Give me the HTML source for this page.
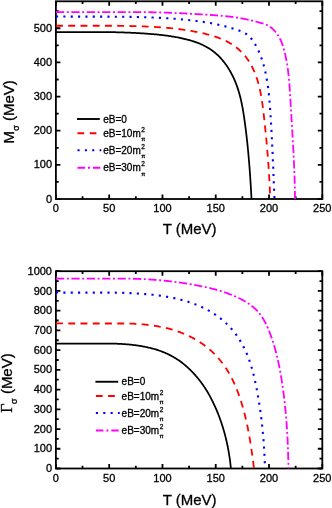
<!DOCTYPE html>
<html><head><meta charset="utf-8"><title>plot</title>
<style>html,body{margin:0;padding:0;background:#fff}svg{display:block;will-change:transform;opacity:.999}text{font-family:"Liberation Sans",sans-serif;fill:#000;stroke:#000;stroke-width:.3px}.tk{font-size:11px}.ax{font-size:15px}.lg{font-size:10px}.sm{font-size:6.5px}.pi{font-size:5.8px}.sub{font-size:9.5px}.ser{font-family:"Liberation Serif",serif}</style></head><body>
<svg width="332" height="508" viewBox="0 0 332 508">
<rect width="332" height="508" fill="#fff"/>
<g stroke="#000" stroke-width="1.8" fill="none" stroke-linecap="butt">
<rect x="55.90" y="1.30" width="266.40" height="197.70"/>
<path d="M55.90 199.00v-4.50M55.90 1.30v4.50M82.54 199.00v-2.80M82.54 1.30v2.80M109.18 199.00v-4.50M109.18 1.30v4.50M135.82 199.00v-2.80M135.82 1.30v2.80M162.46 199.00v-4.50M162.46 1.30v4.50M189.10 199.00v-2.80M189.10 1.30v2.80M215.74 199.00v-4.50M215.74 1.30v4.50M242.38 199.00v-2.80M242.38 1.30v2.80M269.02 199.00v-4.50M269.02 1.30v4.50M295.66 199.00v-2.80M295.66 1.30v2.80M322.30 199.00v-4.50M322.30 1.30v4.50M55.90 199.00h4.50M322.30 199.00h-4.50M55.90 181.93h2.80M322.30 181.93h-2.80M55.90 164.85h4.50M322.30 164.85h-4.50M55.90 147.78h2.80M322.30 147.78h-2.80M55.90 130.71h4.50M322.30 130.71h-4.50M55.90 113.64h2.80M322.30 113.64h-2.80M55.90 96.56h4.50M322.30 96.56h-4.50M55.90 79.49h2.80M322.30 79.49h-2.80M55.90 62.42h4.50M322.30 62.42h-4.50M55.90 45.35h2.80M322.30 45.35h-2.80M55.90 28.27h4.50M322.30 28.27h-4.50M55.90 11.20h2.80M322.30 11.20h-2.80"/>
</g>
<text class="tk" x="55.90" y="212.40" text-anchor="middle">0</text>
<text class="tk" x="109.18" y="212.40" text-anchor="middle">50</text>
<text class="tk" x="162.46" y="212.40" text-anchor="middle">100</text>
<text class="tk" x="215.74" y="212.40" text-anchor="middle">150</text>
<text class="tk" x="269.02" y="212.40" text-anchor="middle">200</text>
<text class="tk" x="322.30" y="212.40" text-anchor="middle">250</text>
<text class="tk" x="52.0" y="202.60" text-anchor="end">0</text>
<text class="tk" x="52.0" y="168.45" text-anchor="end">100</text>
<text class="tk" x="52.0" y="134.31" text-anchor="end">200</text>
<text class="tk" x="52.0" y="100.16" text-anchor="end">300</text>
<text class="tk" x="52.0" y="66.02" text-anchor="end">400</text>
<text class="tk" x="52.0" y="31.87" text-anchor="end">500</text>
<text class="ax" x="189.6" y="234.40" text-anchor="middle">T (MeV)</text>
<g fill="none" stroke-linejoin="round">
<path d="M56.00 32.00 L57.06 32.00 L58.12 32.00 L59.19 32.00 L60.25 32.00 L61.31 32.00 L62.37 32.00 L63.43 32.00 L64.50 32.00 L65.56 32.00 L66.62 32.00 L67.68 32.00 L68.74 32.00 L69.81 32.00 L70.87 32.00 L71.93 32.00 L72.99 32.00 L74.05 32.00 L75.11 32.00 L76.18 32.00 L77.24 32.00 L78.30 32.00 L79.36 32.00 L80.42 32.00 L81.48 32.00 L82.55 32.00 L83.61 32.00 L84.67 32.00 L85.73 32.00 L86.79 32.00 L87.85 32.00 L88.91 32.00 L89.97 32.00 L91.03 32.00 L92.10 32.00 L93.16 32.00 L94.22 32.00 L95.28 32.00 L96.34 32.00 L97.40 32.00 L98.46 32.00 L99.52 32.00 L100.58 32.00 L101.64 32.00 L102.70 32.00 L103.76 32.00 L104.82 32.02 L105.88 32.03 L106.94 32.05 L108.00 32.07 L109.06 32.09 L110.12 32.11 L111.18 32.14 L112.24 32.16 L113.30 32.18 L114.36 32.21 L115.42 32.24 L116.48 32.26 L117.54 32.29 L118.60 32.32 L119.65 32.36 L120.71 32.39 L121.77 32.42 L122.83 32.46 L123.89 32.49 L124.95 32.53 L126.01 32.57 L127.06 32.61 L128.12 32.65 L129.18 32.70 L130.24 32.74 L131.30 32.79 L132.35 32.84 L133.41 32.89 L134.47 32.94 L135.53 32.99 L136.58 33.04 L137.64 33.10 L138.70 33.15 L139.76 33.21 L140.81 33.27 L141.87 33.34 L142.93 33.40 L143.98 33.47 L145.04 33.54 L146.10 33.61 L147.15 33.68 L148.21 33.76 L149.27 33.84 L150.32 33.92 L151.38 34.01 L152.44 34.09 L153.49 34.19 L154.55 34.28 L155.60 34.38 L156.66 34.48 L157.72 34.59 L158.78 34.70 L159.83 34.81 L160.89 34.93 L161.95 35.05 L163.00 35.18 L164.06 35.31 L165.12 35.44 L166.18 35.58 L167.23 35.73 L168.29 35.88 L169.35 36.03 L170.41 36.19 L171.47 36.35 L172.52 36.52 L173.58 36.70 L174.64 36.88 L175.70 37.06 L176.76 37.26 L177.82 37.45 L178.88 37.66 L179.94 37.87 L180.99 38.09 L182.05 38.31 L183.10 38.55 L184.15 38.79 L185.20 39.04 L186.25 39.30 L187.29 39.56 L188.33 39.84 L189.37 40.12 L190.40 40.42 L191.42 40.72 L192.45 41.04 L193.46 41.36 L194.47 41.70 L195.48 42.05 L196.48 42.41 L197.47 42.78 L198.46 43.16 L199.44 43.56 L200.41 43.97 L201.37 44.39 L202.33 44.82 L203.28 45.27 L204.22 45.73 L205.15 46.21 L206.07 46.70 L206.98 47.21 L207.88 47.73 L208.77 48.26 L209.65 48.82 L210.51 49.38 L211.37 49.97 L212.21 50.57 L213.05 51.19 L213.87 51.82 L214.68 52.47 L215.47 53.14 L216.26 53.82 L217.03 54.51 L217.79 55.22 L218.54 55.95 L219.28 56.68 L220.01 57.44 L220.72 58.20 L221.42 58.98 L222.11 59.77 L222.79 60.57 L223.46 61.39 L224.12 62.21 L224.76 63.05 L225.39 63.90 L226.01 64.75 L226.62 65.62 L227.22 66.50 L227.81 67.39 L228.38 68.28 L228.94 69.19 L229.50 70.10 L230.04 71.02 L230.56 71.95 L231.08 72.89 L231.59 73.83 L232.08 74.78 L232.56 75.74 L233.03 76.70 L233.49 77.67 L233.94 78.64 L234.38 79.62 L234.81 80.60 L235.22 81.59 L235.62 82.58 L236.02 83.58 L236.40 84.57 L236.77 85.58 L237.12 86.58 L237.47 87.59 L237.81 88.60 L238.14 89.61 L238.46 90.63 L238.77 91.64 L239.07 92.66 L239.36 93.69 L239.64 94.71 L239.91 95.74 L240.18 96.77 L240.44 97.80 L240.68 98.84 L240.93 99.87 L241.16 100.91 L241.39 101.95 L241.61 102.99 L241.83 104.03 L242.04 105.08 L242.24 106.12 L242.44 107.17 L242.63 108.21 L242.82 109.26 L243.00 110.31 L243.18 111.36 L243.35 112.41 L243.52 113.47 L243.68 114.52 L243.85 115.57 L244.01 116.62 L244.16 117.68 L244.31 118.73 L244.46 119.79 L244.61 120.84 L244.76 121.89 L244.90 122.95 L245.04 124.00 L245.18 125.05 L245.32 126.11 L245.46 127.16 L245.59 128.22 L245.73 129.27 L245.86 130.32 L245.99 131.38 L246.12 132.43 L246.24 133.48 L246.37 134.53 L246.49 135.59 L246.61 136.64 L246.73 137.69 L246.85 138.75 L246.97 139.80 L247.08 140.85 L247.19 141.91 L247.31 142.96 L247.42 144.01 L247.52 145.07 L247.63 146.12 L247.74 147.17 L247.84 148.23 L247.95 149.28 L248.05 150.33 L248.15 151.39 L248.25 152.44 L248.34 153.50 L248.44 154.55 L248.54 155.60 L248.63 156.66 L248.72 157.71 L248.81 158.77 L248.90 159.82 L248.99 160.88 L249.08 161.93 L249.16 162.99 L249.25 164.04 L249.33 165.10 L249.42 166.15 L249.50 167.21 L249.58 168.26 L249.66 169.32 L249.73 170.38 L249.81 171.43 L249.89 172.49 L249.96 173.55 L250.04 174.60 L250.11 175.66 L250.18 176.72 L250.25 177.78 L250.32 178.84 L250.39 179.89 L250.46 180.95 L250.53 182.01 L250.60 183.07 L250.66 184.13 L250.73 185.19 L250.79 186.25 L250.85 187.31 L250.92 188.37 L250.98 189.43 L251.04 190.50 L251.10 191.56 L251.16 192.62 L251.22 193.68 L251.27 194.74 L251.33 195.81 L251.39 196.87 L251.44 197.94 L251.50 199.00" stroke="#000" stroke-width="1.75"/>
<path d="M56.00 25.75 L57.14 25.75 L58.29 25.75 L59.43 25.75 L60.58 25.75 L61.72 25.75 L62.87 25.75 L64.01 25.75 L65.16 25.75 L66.31 25.75 L67.45 25.75 L68.60 25.75 L69.75 25.75 L70.90 25.75 L72.04 25.75 L73.19 25.75 L74.34 25.75 L75.49 25.75 L76.64 25.75 L77.79 25.75 L78.94 25.75 L80.09 25.75 L81.23 25.75 L82.38 25.75 L83.53 25.75 L84.68 25.75 L85.83 25.75 L86.98 25.75 L88.13 25.75 L89.28 25.75 L90.44 25.75 L91.59 25.75 L92.74 25.75 L93.89 25.75 L95.04 25.75 L96.19 25.75 L97.34 25.75 L98.49 25.75 L99.64 25.75 L100.79 25.75 L101.94 25.75 L103.09 25.75 L104.25 25.75 L105.40 25.75 L106.55 25.75 L107.70 25.75 L108.85 25.75 L110.00 25.75 L111.15 25.75 L112.30 25.75 L113.45 25.75 L114.60 25.75 L115.75 25.75 L116.90 25.76 L118.05 25.77 L119.20 25.79 L120.35 25.81 L121.50 25.82 L122.65 25.84 L123.80 25.86 L124.95 25.88 L126.10 25.90 L127.24 25.93 L128.39 25.95 L129.54 25.98 L130.69 26.01 L131.84 26.03 L132.98 26.06 L134.13 26.10 L135.28 26.13 L136.43 26.16 L137.57 26.20 L138.72 26.24 L139.86 26.28 L141.01 26.32 L142.15 26.36 L143.30 26.41 L144.44 26.46 L145.59 26.50 L146.73 26.55 L147.87 26.61 L149.02 26.66 L150.16 26.72 L151.30 26.78 L152.44 26.84 L153.59 26.90 L154.73 26.97 L155.87 27.04 L157.01 27.11 L158.15 27.19 L159.29 27.26 L160.43 27.34 L161.58 27.43 L162.72 27.51 L163.86 27.60 L165.00 27.70 L166.14 27.79 L167.28 27.89 L168.42 28.00 L169.56 28.10 L170.70 28.21 L171.84 28.33 L172.97 28.45 L174.11 28.57 L175.25 28.70 L176.39 28.83 L177.53 28.96 L178.67 29.10 L179.81 29.25 L180.95 29.39 L182.09 29.55 L183.23 29.70 L184.37 29.87 L185.51 30.03 L186.65 30.20 L187.79 30.38 L188.93 30.56 L190.07 30.75 L191.20 30.94 L192.34 31.14 L193.48 31.34 L194.62 31.55 L195.76 31.77 L196.89 31.99 L198.03 32.22 L199.16 32.46 L200.30 32.70 L201.43 32.95 L202.56 33.20 L203.69 33.47 L204.82 33.74 L205.95 34.02 L207.07 34.30 L208.20 34.60 L209.32 34.90 L210.44 35.21 L211.55 35.53 L212.66 35.87 L213.77 36.21 L214.88 36.56 L215.98 36.92 L217.07 37.30 L218.16 37.69 L219.24 38.09 L220.31 38.51 L221.38 38.94 L222.44 39.38 L223.49 39.84 L224.53 40.32 L225.56 40.81 L226.58 41.32 L227.59 41.85 L228.60 42.39 L229.59 42.95 L230.56 43.53 L231.53 44.13 L232.48 44.74 L233.43 45.38 L234.35 46.02 L235.27 46.69 L236.17 47.38 L237.06 48.08 L237.93 48.79 L238.79 49.53 L239.63 50.28 L240.46 51.05 L241.27 51.83 L242.07 52.64 L242.84 53.45 L243.61 54.29 L244.35 55.14 L245.08 56.01 L245.78 56.89 L246.47 57.79 L247.15 58.70 L247.80 59.63 L248.44 60.58 L249.06 61.53 L249.66 62.50 L250.24 63.48 L250.81 64.48 L251.36 65.48 L251.90 66.49 L252.42 67.52 L252.92 68.55 L253.41 69.59 L253.88 70.64 L254.34 71.70 L254.78 72.76 L255.21 73.82 L255.62 74.90 L256.02 75.98 L256.40 77.06 L256.77 78.14 L257.13 79.23 L257.48 80.33 L257.81 81.43 L258.13 82.53 L258.44 83.64 L258.74 84.74 L259.02 85.86 L259.30 86.97 L259.57 88.09 L259.82 89.21 L260.07 90.34 L260.31 91.47 L260.54 92.60 L260.76 93.73 L260.97 94.86 L261.17 96.00 L261.37 97.14 L261.56 98.28 L261.74 99.42 L261.92 100.56 L262.09 101.70 L262.26 102.85 L262.42 104.00 L262.58 105.14 L262.73 106.29 L262.88 107.44 L263.02 108.59 L263.16 109.74 L263.30 110.89 L263.43 112.04 L263.57 113.19 L263.70 114.33 L263.83 115.48 L263.96 116.63 L264.09 117.78 L264.21 118.93 L264.34 120.07 L264.47 121.22 L264.59 122.36 L264.71 123.51 L264.84 124.65 L264.96 125.80 L265.08 126.94 L265.20 128.08 L265.31 129.22 L265.43 130.37 L265.55 131.51 L265.66 132.65 L265.78 133.79 L265.89 134.93 L266.00 136.07 L266.11 137.21 L266.22 138.35 L266.33 139.49 L266.43 140.63 L266.54 141.77 L266.64 142.91 L266.75 144.05 L266.85 145.19 L266.95 146.33 L267.05 147.47 L267.15 148.61 L267.25 149.75 L267.34 150.89 L267.44 152.03 L267.53 153.17 L267.62 154.31 L267.72 155.44 L267.81 156.58 L267.90 157.72 L267.98 158.86 L268.07 160.00 L268.15 161.14 L268.24 162.28 L268.32 163.42 L268.40 164.56 L268.48 165.71 L268.56 166.85 L268.64 167.99 L268.71 169.13 L268.79 170.27 L268.86 171.42 L268.93 172.56 L269.00 173.70 L269.07 174.85 L269.14 175.99 L269.21 177.13 L269.27 178.28 L269.34 179.43 L269.40 180.57 L269.46 181.72 L269.52 182.87 L269.58 184.01 L269.63 185.16 L269.69 186.31 L269.74 187.46 L269.80 188.61 L269.85 189.76 L269.90 190.92 L269.94 192.07 L269.99 193.22 L270.04 194.38 L270.08 195.53 L270.12 196.69 L270.16 197.84 L270.20 199.00" stroke="#f00" stroke-width="1.8" stroke-dasharray="6.9 5.35"/>
<path d="M56.00 16.50 L57.21 16.51 L58.42 16.52 L59.63 16.53 L60.85 16.54 L62.06 16.55 L63.27 16.56 L64.48 16.56 L65.70 16.57 L66.91 16.58 L68.12 16.58 L69.34 16.59 L70.55 16.59 L71.76 16.60 L72.98 16.60 L74.19 16.60 L75.41 16.60 L76.62 16.61 L77.84 16.61 L79.06 16.61 L80.27 16.61 L81.49 16.61 L82.70 16.62 L83.92 16.62 L85.14 16.62 L86.35 16.62 L87.57 16.62 L88.79 16.62 L90.00 16.62 L91.22 16.62 L92.44 16.63 L93.66 16.63 L94.87 16.63 L96.09 16.63 L97.31 16.63 L98.53 16.64 L99.74 16.64 L100.96 16.64 L102.18 16.65 L103.40 16.65 L104.61 16.65 L105.83 16.66 L107.05 16.66 L108.27 16.67 L109.49 16.68 L110.70 16.68 L111.92 16.69 L113.14 16.70 L114.35 16.71 L115.57 16.72 L116.79 16.73 L118.01 16.74 L119.22 16.75 L120.44 16.76 L121.66 16.78 L122.87 16.79 L124.09 16.81 L125.31 16.82 L126.52 16.84 L127.74 16.86 L128.95 16.88 L130.17 16.90 L131.38 16.92 L132.60 16.95 L133.81 16.97 L135.03 17.00 L136.24 17.02 L137.46 17.05 L138.67 17.08 L139.88 17.11 L141.10 17.14 L142.31 17.18 L143.52 17.21 L144.73 17.25 L145.95 17.29 L147.16 17.33 L148.37 17.37 L149.58 17.41 L150.79 17.46 L152.00 17.51 L153.21 17.55 L154.42 17.60 L155.63 17.66 L156.84 17.71 L158.05 17.77 L159.26 17.83 L160.47 17.89 L161.68 17.95 L162.89 18.02 L164.09 18.08 L165.30 18.15 L166.51 18.23 L167.72 18.30 L168.93 18.38 L170.14 18.46 L171.34 18.54 L172.55 18.63 L173.76 18.72 L174.97 18.81 L176.18 18.91 L177.39 19.00 L178.60 19.10 L179.81 19.21 L181.02 19.32 L182.23 19.43 L183.44 19.54 L184.65 19.66 L185.86 19.78 L187.07 19.91 L188.29 20.03 L189.50 20.17 L190.71 20.30 L191.92 20.44 L193.14 20.59 L194.35 20.73 L195.57 20.89 L196.78 21.04 L198.00 21.20 L199.21 21.37 L200.43 21.54 L201.64 21.71 L202.85 21.89 L204.07 22.08 L205.28 22.27 L206.49 22.46 L207.70 22.66 L208.91 22.87 L210.12 23.08 L211.33 23.30 L212.53 23.52 L213.74 23.75 L214.94 23.99 L216.14 24.23 L217.34 24.48 L218.53 24.74 L219.73 25.00 L220.92 25.27 L222.11 25.55 L223.29 25.84 L224.48 26.13 L225.66 26.43 L226.84 26.74 L228.01 27.05 L229.18 27.38 L230.35 27.71 L231.51 28.05 L232.68 28.40 L233.83 28.75 L234.98 29.12 L236.13 29.49 L237.28 29.88 L238.42 30.27 L239.54 30.69 L240.66 31.12 L241.76 31.58 L242.84 32.07 L243.89 32.59 L244.92 33.16 L245.92 33.77 L246.88 34.43 L247.80 35.15 L248.69 35.92 L249.54 36.74 L250.35 37.60 L251.14 38.50 L251.89 39.44 L252.61 40.40 L253.31 41.40 L253.98 42.41 L254.63 43.45 L255.26 44.49 L255.87 45.55 L256.46 46.62 L257.03 47.70 L257.58 48.79 L258.11 49.89 L258.62 51.00 L259.12 52.11 L259.60 53.24 L260.06 54.37 L260.51 55.51 L260.94 56.65 L261.36 57.81 L261.76 58.96 L262.14 60.12 L262.52 61.29 L262.88 62.46 L263.22 63.63 L263.56 64.81 L263.88 65.98 L264.20 67.16 L264.50 68.34 L264.79 69.53 L265.07 70.71 L265.34 71.90 L265.60 73.08 L265.84 74.27 L266.09 75.46 L266.32 76.65 L266.54 77.84 L266.75 79.04 L266.96 80.23 L267.16 81.43 L267.35 82.63 L267.53 83.82 L267.70 85.02 L267.87 86.22 L268.03 87.42 L268.19 88.63 L268.34 89.83 L268.48 91.03 L268.62 92.24 L268.75 93.44 L268.87 94.65 L269.00 95.86 L269.11 97.07 L269.23 98.27 L269.34 99.48 L269.44 100.69 L269.55 101.90 L269.65 103.11 L269.74 104.32 L269.84 105.53 L269.93 106.74 L270.02 107.96 L270.11 109.17 L270.19 110.38 L270.28 111.59 L270.36 112.80 L270.45 114.02 L270.53 115.23 L270.61 116.44 L270.69 117.65 L270.76 118.87 L270.84 120.08 L270.92 121.29 L270.99 122.51 L271.06 123.72 L271.14 124.93 L271.21 126.15 L271.28 127.36 L271.35 128.57 L271.42 129.79 L271.48 131.00 L271.55 132.22 L271.62 133.43 L271.68 134.64 L271.74 135.86 L271.81 137.07 L271.87 138.29 L271.93 139.50 L271.99 140.72 L272.05 141.93 L272.11 143.14 L272.17 144.36 L272.23 145.57 L272.29 146.79 L272.34 148.00 L272.40 149.22 L272.45 150.43 L272.51 151.65 L272.56 152.86 L272.62 154.08 L272.67 155.29 L272.73 156.51 L272.78 157.72 L272.83 158.94 L272.88 160.15 L272.93 161.37 L272.99 162.58 L273.04 163.80 L273.09 165.01 L273.14 166.23 L273.19 167.44 L273.24 168.65 L273.29 169.87 L273.34 171.08 L273.39 172.30 L273.44 173.51 L273.49 174.73 L273.54 175.94 L273.59 177.16 L273.64 178.37 L273.69 179.58 L273.74 180.80 L273.79 182.01 L273.83 183.23 L273.88 184.44 L273.93 185.65 L273.98 186.87 L274.04 188.08 L274.09 189.30 L274.14 190.51 L274.19 191.72 L274.24 192.94 L274.29 194.15 L274.34 195.36 L274.39 196.57 L274.45 197.79 L274.50 199.00" stroke="#00f" stroke-width="2.1" stroke-dasharray="2.1 5.25"/>
<path d="M56.00 12.00 L57.31 12.01 L58.62 12.03 L59.94 12.04 L61.25 12.05 L62.56 12.06 L63.87 12.07 L65.19 12.07 L66.50 12.08 L67.81 12.08 L69.13 12.09 L70.44 12.09 L71.76 12.09 L73.07 12.10 L74.38 12.10 L75.70 12.10 L77.01 12.10 L78.33 12.10 L79.64 12.10 L80.96 12.10 L82.27 12.10 L83.59 12.10 L84.90 12.10 L86.22 12.10 L87.53 12.10 L88.85 12.10 L90.16 12.10 L91.48 12.10 L92.80 12.10 L94.11 12.10 L95.43 12.10 L96.74 12.10 L98.06 12.10 L99.37 12.10 L100.69 12.10 L102.01 12.10 L103.32 12.10 L104.64 12.10 L105.95 12.10 L107.27 12.10 L108.59 12.10 L109.90 12.10 L111.22 12.10 L112.53 12.10 L113.85 12.10 L115.17 12.10 L116.48 12.10 L117.80 12.10 L119.11 12.10 L120.43 12.10 L121.74 12.10 L123.06 12.10 L124.37 12.10 L125.69 12.10 L127.00 12.10 L128.32 12.10 L129.63 12.10 L130.95 12.10 L132.26 12.10 L133.58 12.10 L134.89 12.10 L136.21 12.10 L137.52 12.10 L138.84 12.10 L140.15 12.10 L141.46 12.10 L142.78 12.12 L144.09 12.13 L145.40 12.15 L146.71 12.18 L148.03 12.20 L149.34 12.22 L150.65 12.25 L151.96 12.27 L153.28 12.30 L154.59 12.33 L155.90 12.36 L157.21 12.40 L158.52 12.43 L159.83 12.47 L161.14 12.51 L162.45 12.55 L163.76 12.59 L165.07 12.63 L166.38 12.68 L167.69 12.72 L169.01 12.77 L170.32 12.82 L171.63 12.87 L172.94 12.92 L174.25 12.98 L175.56 13.03 L176.87 13.09 L178.18 13.15 L179.50 13.21 L180.81 13.27 L182.12 13.33 L183.44 13.39 L184.75 13.46 L186.07 13.52 L187.38 13.59 L188.70 13.66 L190.01 13.73 L191.33 13.80 L192.65 13.87 L193.97 13.94 L195.28 14.02 L196.60 14.09 L197.93 14.17 L199.25 14.25 L200.57 14.33 L201.89 14.41 L203.22 14.49 L204.54 14.57 L205.87 14.65 L207.19 14.74 L208.52 14.83 L209.85 14.91 L211.18 15.00 L212.51 15.10 L213.83 15.19 L215.16 15.29 L216.49 15.39 L217.82 15.50 L219.14 15.60 L220.47 15.72 L221.79 15.84 L223.12 15.96 L224.44 16.09 L225.76 16.22 L227.07 16.36 L228.39 16.50 L229.70 16.65 L231.02 16.81 L232.32 16.97 L233.63 17.14 L234.93 17.32 L236.23 17.51 L237.53 17.70 L238.82 17.91 L240.11 18.12 L241.40 18.34 L242.68 18.57 L243.96 18.80 L245.23 19.05 L246.50 19.31 L247.76 19.58 L249.02 19.86 L250.28 20.15 L251.53 20.45 L252.77 20.76 L254.01 21.08 L255.24 21.42 L256.48 21.75 L257.72 22.10 L258.96 22.44 L260.21 22.78 L261.46 23.12 L262.72 23.48 L263.97 23.85 L265.20 24.28 L266.41 24.77 L267.58 25.33 L268.72 25.96 L269.83 26.66 L270.89 27.43 L271.92 28.25 L272.91 29.12 L273.85 30.03 L274.75 30.99 L275.61 31.98 L276.42 33.01 L277.19 34.06 L277.92 35.14 L278.60 36.25 L279.25 37.38 L279.86 38.54 L280.44 39.71 L280.98 40.90 L281.50 42.12 L281.98 43.34 L282.44 44.59 L282.87 45.84 L283.27 47.11 L283.66 48.38 L284.02 49.66 L284.37 50.95 L284.69 52.24 L285.01 53.54 L285.31 54.83 L285.59 56.13 L285.87 57.43 L286.13 58.72 L286.38 60.02 L286.62 61.32 L286.85 62.62 L287.07 63.92 L287.28 65.22 L287.48 66.52 L287.67 67.83 L287.85 69.13 L288.02 70.43 L288.18 71.74 L288.34 73.04 L288.48 74.35 L288.62 75.65 L288.76 76.96 L288.89 78.26 L289.01 79.57 L289.12 80.88 L289.23 82.18 L289.34 83.49 L289.44 84.80 L289.54 86.11 L289.63 87.42 L289.72 88.73 L289.81 90.04 L289.89 91.35 L289.97 92.66 L290.05 93.97 L290.13 95.28 L290.21 96.59 L290.29 97.90 L290.36 99.21 L290.44 100.52 L290.52 101.83 L290.59 103.14 L290.67 104.45 L290.75 105.76 L290.83 107.08 L290.91 108.39 L290.98 109.70 L291.06 111.01 L291.14 112.32 L291.22 113.63 L291.30 114.95 L291.38 116.26 L291.46 117.57 L291.54 118.88 L291.62 120.19 L291.70 121.51 L291.78 122.82 L291.86 124.13 L291.94 125.44 L292.02 126.76 L292.10 128.07 L292.18 129.38 L292.26 130.69 L292.34 132.01 L292.41 133.32 L292.49 134.63 L292.57 135.95 L292.64 137.26 L292.72 138.57 L292.79 139.89 L292.87 141.20 L292.94 142.51 L293.02 143.83 L293.09 145.14 L293.16 146.45 L293.23 147.77 L293.30 149.08 L293.37 150.39 L293.44 151.71 L293.51 153.02 L293.57 154.33 L293.64 155.65 L293.70 156.96 L293.77 158.27 L293.83 159.59 L293.89 160.90 L293.95 162.22 L294.01 163.53 L294.07 164.84 L294.12 166.16 L294.18 167.47 L294.23 168.78 L294.28 170.10 L294.34 171.41 L294.38 172.73 L294.43 174.04 L294.48 175.35 L294.52 176.67 L294.57 177.98 L294.61 179.29 L294.65 180.61 L294.68 181.92 L294.72 183.24 L294.75 184.55 L294.79 185.86 L294.82 187.18 L294.85 188.49 L294.87 189.80 L294.90 191.12 L294.92 192.43 L294.94 193.75 L294.96 195.06 L294.97 196.37 L294.99 197.69 L295.00 199.00" stroke="#f0f" stroke-width="1.8" stroke-dasharray="8.2 2.6 2 2.6"/>
</g>
<g fill="none">
<path d="M77.0 119.00H99.8" stroke="#000" stroke-width="1.9"/>
<path d="M77.5 133.25H99.8" stroke="#f00" stroke-width="1.8" stroke-dasharray="6.7 5.5"/>
<path d="M77.5 150.25H101.3" stroke="#00f" stroke-width="2.1" stroke-dasharray="2.1 5.25"/>
<path d="M77.5 167.75H100.3" stroke="#f0f" stroke-width="1.8" stroke-dasharray="7.5 3 2 2.9"/>
</g>
<text class="lg" x="103.20" y="122.60">eB=0</text>
<text class="lg" x="103.20" y="136.80">eB=10m<tspan class="sm" dx="0.6" dy="-5">2</tspan><tspan class="pi" dx="-3.8" dy="9.3">π</tspan></text>
<text class="lg" x="103.20" y="153.80">eB=20m<tspan class="sm" dx="0.6" dy="-5">2</tspan><tspan class="pi" dx="-3.8" dy="9.3">π</tspan></text>
<text class="lg" x="103.20" y="171.30">eB=30m<tspan class="sm" dx="0.6" dy="-5">2</tspan><tspan class="pi" dx="-3.8" dy="9.3">π</tspan></text>
<text class="ax" transform="translate(14.2 143.6) rotate(-90)">M<tspan class="sub" dy="5">σ</tspan><tspan dy="-5"> (MeV)</tspan></text>
<g stroke="#000" stroke-width="1.8" fill="none" stroke-linecap="butt">
<rect x="55.90" y="271.20" width="266.40" height="197.30"/>
<path d="M55.90 468.50v-4.50M55.90 271.20v4.50M82.54 468.50v-2.80M82.54 271.20v2.80M109.18 468.50v-4.50M109.18 271.20v4.50M135.82 468.50v-2.80M135.82 271.20v2.80M162.46 468.50v-4.50M162.46 271.20v4.50M189.10 468.50v-2.80M189.10 271.20v2.80M215.74 468.50v-4.50M215.74 271.20v4.50M242.38 468.50v-2.80M242.38 271.20v2.80M269.02 468.50v-4.50M269.02 271.20v4.50M295.66 468.50v-2.80M295.66 271.20v2.80M322.30 468.50v-4.50M322.30 271.20v4.50M55.90 468.50h4.50M322.30 468.50h-4.50M55.90 458.63h2.80M322.30 458.63h-2.80M55.90 448.77h4.50M322.30 448.77h-4.50M55.90 438.90h2.80M322.30 438.90h-2.80M55.90 429.04h4.50M322.30 429.04h-4.50M55.90 419.18h2.80M322.30 419.18h-2.80M55.90 409.31h4.50M322.30 409.31h-4.50M55.90 399.44h2.80M322.30 399.44h-2.80M55.90 389.58h4.50M322.30 389.58h-4.50M55.90 379.72h2.80M322.30 379.72h-2.80M55.90 369.85h4.50M322.30 369.85h-4.50M55.90 359.99h2.80M322.30 359.99h-2.80M55.90 350.12h4.50M322.30 350.12h-4.50M55.90 340.25h2.80M322.30 340.25h-2.80M55.90 330.39h4.50M322.30 330.39h-4.50M55.90 320.52h2.80M322.30 320.52h-2.80M55.90 310.66h4.50M322.30 310.66h-4.50M55.90 300.79h2.80M322.30 300.79h-2.80M55.90 290.93h4.50M322.30 290.93h-4.50M55.90 281.06h2.80M322.30 281.06h-2.80M55.90 271.20h4.50M322.30 271.20h-4.50"/>
</g>
<text class="tk" x="55.90" y="481.60" text-anchor="middle">0</text>
<text class="tk" x="109.18" y="481.60" text-anchor="middle">50</text>
<text class="tk" x="162.46" y="481.60" text-anchor="middle">100</text>
<text class="tk" x="215.74" y="481.60" text-anchor="middle">150</text>
<text class="tk" x="269.02" y="481.60" text-anchor="middle">200</text>
<text class="tk" x="322.30" y="481.60" text-anchor="middle">250</text>
<text class="tk" x="52.0" y="472.10" text-anchor="end">0</text>
<text class="tk" x="52.0" y="452.37" text-anchor="end">100</text>
<text class="tk" x="52.0" y="432.64" text-anchor="end">200</text>
<text class="tk" x="52.0" y="412.91" text-anchor="end">300</text>
<text class="tk" x="52.0" y="393.18" text-anchor="end">400</text>
<text class="tk" x="52.0" y="373.45" text-anchor="end">500</text>
<text class="tk" x="52.0" y="353.72" text-anchor="end">600</text>
<text class="tk" x="52.0" y="333.99" text-anchor="end">700</text>
<text class="tk" x="52.0" y="314.26" text-anchor="end">800</text>
<text class="tk" x="52.0" y="294.53" text-anchor="end">900</text>
<text class="tk" x="52.0" y="274.80" text-anchor="end">1000</text>
<text class="ax" x="189.6" y="504.60" text-anchor="middle">T (MeV)</text>
<g fill="none" stroke-linejoin="round">
<path d="M56.00 343.50 L56.84 343.53 L57.68 343.55 L58.51 343.58 L59.35 343.60 L60.19 343.62 L61.03 343.64 L61.86 343.65 L62.70 343.67 L63.53 343.68 L64.37 343.69 L65.21 343.70 L66.04 343.71 L66.88 343.71 L67.71 343.72 L68.55 343.72 L69.38 343.72 L70.22 343.72 L71.05 343.72 L71.88 343.72 L72.72 343.72 L73.55 343.72 L74.38 343.72 L75.22 343.72 L76.05 343.72 L76.88 343.72 L77.72 343.72 L78.55 343.72 L79.38 343.72 L80.22 343.72 L81.05 343.72 L81.88 343.72 L82.71 343.72 L83.55 343.72 L84.38 343.72 L85.21 343.72 L86.04 343.72 L86.87 343.72 L87.71 343.72 L88.54 343.72 L89.37 343.72 L90.20 343.72 L91.04 343.72 L91.87 343.72 L92.70 343.72 L93.53 343.72 L94.37 343.72 L95.20 343.72 L96.03 343.72 L96.86 343.72 L97.70 343.72 L98.53 343.72 L99.36 343.72 L100.20 343.72 L101.03 343.72 L101.86 343.72 L102.70 343.72 L103.53 343.72 L104.36 343.72 L105.20 343.72 L106.03 343.72 L106.86 343.72 L107.70 343.72 L108.53 343.72 L109.37 343.72 L110.20 343.72 L111.04 343.72 L111.87 343.72 L112.71 343.72 L113.55 343.72 L114.38 343.72 L115.22 343.72 L116.06 343.72 L116.89 343.73 L117.73 343.77 L118.57 343.80 L119.41 343.85 L120.24 343.89 L121.08 343.93 L121.92 343.98 L122.76 344.04 L123.60 344.09 L124.44 344.15 L125.28 344.21 L126.11 344.27 L126.95 344.34 L127.79 344.41 L128.63 344.49 L129.46 344.56 L130.30 344.65 L131.14 344.73 L131.97 344.82 L132.80 344.91 L133.64 345.01 L134.47 345.11 L135.30 345.22 L136.14 345.33 L136.97 345.44 L137.79 345.56 L138.62 345.68 L139.45 345.81 L140.28 345.94 L141.10 346.08 L141.92 346.22 L142.75 346.37 L143.57 346.52 L144.39 346.68 L145.20 346.84 L146.02 347.00 L146.83 347.18 L147.65 347.35 L148.46 347.54 L149.27 347.73 L150.07 347.92 L150.88 348.12 L151.68 348.33 L152.48 348.54 L153.28 348.76 L154.08 348.98 L154.87 349.21 L155.66 349.45 L156.45 349.69 L157.24 349.94 L158.02 350.19 L158.81 350.46 L159.59 350.73 L160.36 351.00 L161.14 351.28 L161.91 351.57 L162.68 351.87 L163.44 352.17 L164.20 352.48 L164.96 352.80 L165.72 353.13 L166.47 353.46 L167.22 353.80 L167.97 354.15 L168.71 354.50 L169.45 354.87 L170.19 355.24 L170.92 355.61 L171.65 356.00 L172.38 356.40 L173.10 356.80 L173.82 357.21 L174.53 357.63 L175.24 358.06 L175.95 358.49 L176.65 358.94 L177.35 359.39 L178.05 359.86 L178.74 360.33 L179.42 360.81 L180.10 361.29 L180.78 361.79 L181.45 362.29 L182.12 362.81 L182.79 363.33 L183.45 363.85 L184.10 364.38 L184.75 364.92 L185.40 365.47 L186.04 366.02 L186.68 366.58 L187.31 367.15 L187.94 367.72 L188.56 368.30 L189.17 368.88 L189.79 369.47 L190.39 370.06 L191.00 370.66 L191.59 371.26 L192.18 371.86 L192.77 372.47 L193.35 373.09 L193.92 373.71 L194.49 374.33 L195.06 374.96 L195.62 375.59 L196.17 376.22 L196.72 376.86 L197.26 377.51 L197.80 378.15 L198.33 378.80 L198.86 379.46 L199.38 380.12 L199.89 380.78 L200.40 381.44 L200.91 382.11 L201.41 382.78 L201.90 383.46 L202.39 384.13 L202.87 384.82 L203.34 385.50 L203.81 386.19 L204.28 386.88 L204.74 387.57 L205.19 388.27 L205.64 388.97 L206.09 389.67 L206.53 390.38 L206.96 391.08 L207.39 391.79 L207.82 392.51 L208.24 393.22 L208.65 393.94 L209.06 394.66 L209.47 395.39 L209.87 396.12 L210.26 396.84 L210.66 397.58 L211.04 398.31 L211.43 399.05 L211.81 399.79 L212.18 400.53 L212.55 401.27 L212.92 402.01 L213.28 402.76 L213.64 403.51 L213.99 404.26 L214.34 405.02 L214.69 405.77 L215.03 406.53 L215.37 407.29 L215.70 408.05 L216.04 408.81 L216.36 409.58 L216.69 410.34 L217.01 411.11 L217.32 411.88 L217.64 412.65 L217.95 413.43 L218.25 414.20 L218.56 414.98 L218.86 415.76 L219.15 416.54 L219.44 417.32 L219.73 418.10 L220.02 418.88 L220.30 419.67 L220.58 420.45 L220.85 421.24 L221.12 422.03 L221.39 422.82 L221.65 423.62 L221.91 424.41 L222.17 425.20 L222.42 426.00 L222.67 426.80 L222.92 427.60 L223.16 428.40 L223.40 429.20 L223.64 430.00 L223.87 430.80 L224.10 431.60 L224.32 432.41 L224.55 433.22 L224.76 434.02 L224.98 434.83 L225.19 435.64 L225.40 436.45 L225.60 437.26 L225.81 438.07 L226.00 438.89 L226.20 439.70 L226.39 440.51 L226.58 441.33 L226.76 442.14 L226.94 442.96 L227.12 443.78 L227.29 444.60 L227.47 445.41 L227.63 446.23 L227.80 447.05 L227.96 447.87 L228.11 448.69 L228.27 449.52 L228.42 450.34 L228.57 451.16 L228.71 451.98 L228.85 452.81 L228.99 453.63 L229.12 454.45 L229.25 455.28 L229.38 456.10 L229.51 456.93 L229.63 457.75 L229.74 458.58 L229.86 459.41 L229.97 460.23 L230.08 461.06 L230.18 461.88 L230.28 462.71 L230.38 463.54 L230.47 464.37 L230.57 465.19 L230.65 466.02 L230.74 466.85 L230.82 467.67 L230.90 468.50" stroke="#000" stroke-width="1.75"/>
<path d="M56.00 323.25 L56.97 323.28 L57.94 323.31 L58.91 323.33 L59.88 323.36 L60.84 323.38 L61.81 323.39 L62.78 323.41 L63.75 323.43 L64.72 323.44 L65.69 323.45 L66.65 323.46 L67.62 323.47 L68.59 323.47 L69.56 323.48 L70.53 323.48 L71.49 323.48 L72.46 323.48 L73.43 323.48 L74.40 323.48 L75.36 323.48 L76.33 323.48 L77.30 323.48 L78.27 323.48 L79.23 323.48 L80.20 323.48 L81.17 323.48 L82.13 323.48 L83.10 323.48 L84.07 323.48 L85.04 323.48 L86.00 323.48 L86.97 323.48 L87.94 323.48 L88.90 323.48 L89.87 323.48 L90.84 323.48 L91.80 323.48 L92.77 323.48 L93.73 323.48 L94.70 323.48 L95.67 323.48 L96.63 323.48 L97.60 323.48 L98.57 323.48 L99.53 323.48 L100.50 323.48 L101.47 323.48 L102.43 323.48 L103.40 323.48 L104.37 323.48 L105.33 323.48 L106.30 323.48 L107.26 323.48 L108.23 323.48 L109.20 323.48 L110.16 323.48 L111.13 323.48 L112.10 323.48 L113.06 323.48 L114.03 323.48 L115.00 323.48 L115.96 323.48 L116.93 323.48 L117.89 323.48 L118.86 323.48 L119.83 323.48 L120.79 323.48 L121.76 323.48 L122.73 323.48 L123.69 323.48 L124.66 323.48 L125.63 323.48 L126.59 323.48 L127.56 323.48 L128.53 323.48 L129.50 323.49 L130.46 323.53 L131.43 323.57 L132.40 323.62 L133.36 323.67 L134.33 323.73 L135.30 323.78 L136.27 323.84 L137.23 323.91 L138.20 323.97 L139.16 324.05 L140.13 324.12 L141.10 324.20 L142.06 324.28 L143.03 324.37 L143.99 324.46 L144.96 324.56 L145.92 324.66 L146.88 324.76 L147.85 324.87 L148.81 324.98 L149.77 325.10 L150.73 325.23 L151.69 325.36 L152.65 325.49 L153.61 325.63 L154.57 325.78 L155.52 325.93 L156.48 326.09 L157.44 326.25 L158.39 326.42 L159.34 326.60 L160.30 326.78 L161.25 326.97 L162.20 327.16 L163.15 327.36 L164.09 327.57 L165.04 327.79 L165.99 328.01 L166.93 328.24 L167.87 328.47 L168.82 328.72 L169.76 328.97 L170.69 329.23 L171.63 329.49 L172.56 329.76 L173.50 330.04 L174.43 330.33 L175.35 330.63 L176.28 330.93 L177.20 331.24 L178.12 331.55 L179.04 331.88 L179.95 332.21 L180.86 332.55 L181.77 332.90 L182.67 333.26 L183.58 333.62 L184.47 333.99 L185.37 334.37 L186.25 334.76 L187.14 335.16 L188.02 335.56 L188.90 335.98 L189.77 336.40 L190.64 336.83 L191.50 337.26 L192.36 337.71 L193.22 338.16 L194.06 338.63 L194.91 339.10 L195.75 339.58 L196.58 340.07 L197.41 340.56 L198.23 341.07 L199.05 341.58 L199.86 342.11 L200.66 342.64 L201.46 343.18 L202.25 343.73 L203.04 344.28 L203.82 344.85 L204.59 345.42 L205.36 346.01 L206.12 346.60 L206.88 347.20 L207.63 347.80 L208.37 348.42 L209.10 349.04 L209.83 349.67 L210.55 350.31 L211.27 350.95 L211.97 351.61 L212.67 352.27 L213.37 352.93 L214.05 353.61 L214.73 354.29 L215.40 354.98 L216.07 355.68 L216.73 356.38 L217.38 357.09 L218.02 357.81 L218.65 358.53 L219.28 359.26 L219.90 360.00 L220.51 360.74 L221.11 361.49 L221.71 362.25 L222.30 363.01 L222.88 363.78 L223.45 364.56 L224.01 365.34 L224.57 366.12 L225.11 366.92 L225.65 367.71 L226.18 368.52 L226.70 369.33 L227.22 370.14 L227.72 370.96 L228.22 371.79 L228.71 372.62 L229.20 373.46 L229.67 374.30 L230.14 375.14 L230.60 375.99 L231.06 376.84 L231.50 377.70 L231.94 378.56 L232.38 379.43 L232.80 380.30 L233.22 381.17 L233.64 382.05 L234.04 382.93 L234.44 383.82 L234.84 384.70 L235.23 385.59 L235.61 386.49 L235.98 387.38 L236.35 388.28 L236.72 389.19 L237.08 390.09 L237.43 391.00 L237.78 391.91 L238.12 392.82 L238.46 393.73 L238.79 394.65 L239.11 395.57 L239.43 396.48 L239.75 397.41 L240.06 398.33 L240.37 399.25 L240.67 400.18 L240.97 401.10 L241.26 402.03 L241.55 402.96 L241.83 403.89 L242.11 404.82 L242.39 405.75 L242.66 406.68 L242.93 407.61 L243.19 408.55 L243.45 409.49 L243.71 410.42 L243.96 411.36 L244.20 412.30 L244.45 413.24 L244.69 414.18 L244.92 415.12 L245.15 416.06 L245.38 417.01 L245.61 417.95 L245.83 418.90 L246.05 419.84 L246.26 420.79 L246.47 421.74 L246.68 422.68 L246.89 423.63 L247.09 424.58 L247.29 425.53 L247.48 426.48 L247.68 427.43 L247.87 428.38 L248.05 429.33 L248.24 430.29 L248.42 431.24 L248.60 432.19 L248.77 433.15 L248.95 434.10 L249.12 435.06 L249.29 436.01 L249.45 436.97 L249.62 437.92 L249.78 438.88 L249.94 439.83 L250.10 440.79 L250.25 441.74 L250.41 442.70 L250.56 443.66 L250.71 444.61 L250.85 445.57 L251.00 446.53 L251.14 447.48 L251.29 448.44 L251.43 449.40 L251.57 450.36 L251.71 451.31 L251.84 452.27 L251.98 453.23 L252.11 454.18 L252.24 455.14 L252.38 456.10 L252.51 457.05 L252.63 458.01 L252.76 458.96 L252.89 459.92 L253.02 460.87 L253.14 461.83 L253.27 462.78 L253.39 463.74 L253.51 464.69 L253.64 465.64 L253.76 466.60 L253.88 467.55 L254.00 468.50" stroke="#f00" stroke-width="1.8" stroke-dasharray="6.9 5.35"/>
<path d="M56.00 292.50 L57.13 292.51 L58.25 292.53 L59.37 292.54 L60.50 292.55 L61.62 292.56 L62.74 292.57 L63.85 292.58 L64.97 292.58 L66.09 292.59 L67.20 292.59 L68.31 292.59 L69.43 292.59 L70.54 292.59 L71.65 292.59 L72.76 292.59 L73.86 292.59 L74.97 292.59 L76.08 292.59 L77.18 292.59 L78.29 292.59 L79.39 292.59 L80.49 292.59 L81.60 292.59 L82.70 292.59 L83.80 292.59 L84.90 292.59 L86.00 292.59 L87.10 292.59 L88.20 292.59 L89.29 292.59 L90.39 292.59 L91.49 292.59 L92.58 292.59 L93.68 292.59 L94.78 292.59 L95.87 292.59 L96.97 292.59 L98.06 292.59 L99.16 292.59 L100.25 292.59 L101.35 292.59 L102.44 292.59 L103.54 292.59 L104.63 292.59 L105.73 292.59 L106.82 292.59 L107.92 292.59 L109.01 292.59 L110.11 292.59 L111.20 292.59 L112.30 292.60 L113.39 292.62 L114.49 292.64 L115.58 292.65 L116.68 292.68 L117.78 292.70 L118.87 292.73 L119.97 292.75 L121.07 292.78 L122.17 292.81 L123.27 292.85 L124.37 292.88 L125.47 292.92 L126.57 292.96 L127.67 293.00 L128.77 293.05 L129.88 293.10 L130.98 293.15 L132.09 293.20 L133.19 293.26 L134.30 293.32 L135.41 293.38 L136.51 293.44 L137.62 293.51 L138.73 293.58 L139.85 293.66 L140.96 293.74 L142.07 293.82 L143.19 293.90 L144.30 293.99 L145.42 294.08 L146.53 294.17 L147.65 294.27 L148.76 294.38 L149.88 294.49 L151.00 294.60 L152.11 294.71 L153.23 294.83 L154.35 294.96 L155.46 295.09 L156.58 295.23 L157.69 295.37 L158.81 295.51 L159.92 295.66 L161.03 295.82 L162.14 295.98 L163.25 296.15 L164.36 296.32 L165.47 296.50 L166.57 296.68 L167.68 296.87 L168.78 297.07 L169.88 297.27 L170.98 297.48 L172.08 297.70 L173.17 297.92 L174.26 298.15 L175.35 298.39 L176.44 298.64 L177.52 298.89 L178.61 299.15 L179.69 299.41 L180.76 299.68 L181.83 299.97 L182.90 300.25 L183.97 300.55 L185.03 300.86 L186.09 301.17 L187.15 301.49 L188.20 301.82 L189.25 302.16 L190.30 302.51 L191.34 302.86 L192.38 303.22 L193.41 303.60 L194.44 303.98 L195.46 304.37 L196.48 304.77 L197.49 305.18 L198.50 305.60 L199.51 306.03 L200.51 306.47 L201.50 306.92 L202.49 307.38 L203.48 307.85 L204.46 308.33 L205.43 308.82 L206.40 309.32 L207.36 309.83 L208.31 310.36 L209.26 310.89 L210.21 311.43 L211.15 311.99 L212.08 312.55 L213.00 313.13 L213.92 313.72 L214.83 314.32 L215.74 314.93 L216.64 315.56 L217.53 316.20 L218.41 316.84 L219.29 317.50 L220.16 318.18 L221.02 318.86 L221.87 319.56 L222.72 320.27 L223.56 320.99 L224.39 321.72 L225.21 322.46 L226.02 323.21 L226.82 323.98 L227.61 324.75 L228.39 325.54 L229.16 326.33 L229.92 327.14 L230.67 327.96 L231.41 328.78 L232.14 329.62 L232.85 330.47 L233.56 331.32 L234.25 332.19 L234.93 333.07 L235.60 333.95 L236.26 334.85 L236.90 335.75 L237.54 336.66 L238.16 337.58 L238.77 338.51 L239.37 339.44 L239.95 340.38 L240.53 341.33 L241.09 342.29 L241.64 343.25 L242.18 344.22 L242.71 345.19 L243.23 346.17 L243.74 347.16 L244.23 348.15 L244.72 349.15 L245.19 350.15 L245.65 351.15 L246.10 352.16 L246.54 353.18 L246.97 354.20 L247.39 355.22 L247.80 356.25 L248.20 357.28 L248.59 358.31 L248.97 359.35 L249.34 360.39 L249.70 361.44 L250.05 362.49 L250.40 363.54 L250.74 364.59 L251.07 365.65 L251.39 366.71 L251.70 367.77 L252.01 368.84 L252.31 369.91 L252.60 370.98 L252.89 372.05 L253.17 373.13 L253.45 374.20 L253.71 375.28 L253.98 376.36 L254.23 377.44 L254.48 378.53 L254.73 379.61 L254.97 380.70 L255.21 381.78 L255.44 382.87 L255.67 383.96 L255.90 385.05 L256.12 386.14 L256.33 387.23 L256.55 388.32 L256.76 389.41 L256.97 390.50 L257.17 391.59 L257.37 392.68 L257.57 393.77 L257.77 394.86 L257.96 395.95 L258.15 397.04 L258.34 398.13 L258.53 399.23 L258.71 400.32 L258.89 401.41 L259.06 402.50 L259.24 403.59 L259.41 404.69 L259.57 405.78 L259.74 406.87 L259.90 407.96 L260.06 409.06 L260.22 410.15 L260.37 411.24 L260.52 412.34 L260.67 413.43 L260.82 414.53 L260.96 415.62 L261.10 416.72 L261.24 417.81 L261.38 418.91 L261.51 420.00 L261.64 421.10 L261.77 422.19 L261.89 423.29 L262.01 424.39 L262.13 425.48 L262.25 426.58 L262.37 427.68 L262.48 428.77 L262.59 429.87 L262.70 430.97 L262.80 432.07 L262.90 433.17 L263.01 434.27 L263.10 435.36 L263.20 436.46 L263.29 437.56 L263.38 438.66 L263.47 439.76 L263.56 440.87 L263.64 441.97 L263.72 443.07 L263.80 444.17 L263.88 445.27 L263.95 446.37 L264.03 447.48 L264.10 448.58 L264.17 449.68 L264.23 450.79 L264.30 451.89 L264.36 453.00 L264.42 454.10 L264.47 455.21 L264.53 456.31 L264.58 457.42 L264.63 458.52 L264.68 459.63 L264.73 460.74 L264.77 461.85 L264.82 462.95 L264.86 464.06 L264.90 465.17 L264.93 466.28 L264.97 467.39 L265.00 468.50" stroke="#00f" stroke-width="2.1" stroke-dasharray="2.1 5.25"/>
<path d="M56.00 278.50 L57.23 278.52 L58.47 278.54 L59.70 278.56 L60.94 278.58 L62.17 278.60 L63.41 278.61 L64.64 278.62 L65.88 278.63 L67.12 278.64 L68.35 278.65 L69.59 278.65 L70.83 278.65 L72.07 278.65 L73.31 278.66 L74.55 278.66 L75.79 278.66 L77.03 278.66 L78.27 278.66 L79.51 278.66 L80.75 278.66 L81.99 278.66 L83.24 278.66 L84.48 278.66 L85.72 278.66 L86.96 278.66 L88.21 278.66 L89.45 278.66 L90.69 278.66 L91.94 278.66 L93.18 278.66 L94.42 278.66 L95.67 278.66 L96.91 278.66 L98.15 278.66 L99.40 278.66 L100.64 278.66 L101.89 278.66 L103.13 278.66 L104.38 278.66 L105.62 278.66 L106.86 278.66 L108.11 278.66 L109.35 278.66 L110.59 278.66 L111.84 278.66 L113.08 278.66 L114.33 278.66 L115.57 278.66 L116.81 278.66 L118.06 278.66 L119.30 278.66 L120.54 278.66 L121.78 278.66 L123.03 278.66 L124.27 278.66 L125.51 278.66 L126.75 278.66 L127.99 278.66 L129.23 278.66 L130.47 278.67 L131.71 278.70 L132.95 278.73 L134.19 278.77 L135.43 278.80 L136.67 278.85 L137.91 278.89 L139.14 278.94 L140.38 278.99 L141.62 279.04 L142.85 279.10 L144.09 279.16 L145.33 279.22 L146.56 279.29 L147.79 279.36 L149.03 279.43 L150.26 279.51 L151.49 279.59 L152.72 279.67 L153.96 279.76 L155.19 279.86 L156.42 279.95 L157.65 280.05 L158.88 280.16 L160.11 280.26 L161.33 280.38 L162.56 280.49 L163.79 280.61 L165.02 280.73 L166.24 280.86 L167.47 280.99 L168.70 281.13 L169.93 281.27 L171.15 281.41 L172.38 281.56 L173.60 281.71 L174.83 281.86 L176.05 282.02 L177.28 282.18 L178.51 282.35 L179.73 282.52 L180.96 282.70 L182.18 282.87 L183.41 283.06 L184.63 283.24 L185.86 283.44 L187.08 283.63 L188.31 283.83 L189.53 284.04 L190.76 284.24 L191.98 284.46 L193.21 284.67 L194.44 284.89 L195.66 285.12 L196.89 285.35 L198.11 285.58 L199.34 285.82 L200.57 286.06 L201.79 286.31 L203.02 286.57 L204.24 286.83 L205.47 287.09 L206.69 287.36 L207.91 287.64 L209.13 287.93 L210.34 288.22 L211.56 288.52 L212.77 288.82 L213.98 289.14 L215.19 289.46 L216.40 289.79 L217.60 290.13 L218.80 290.48 L220.00 290.83 L221.19 291.20 L222.38 291.57 L223.57 291.96 L224.75 292.35 L225.93 292.76 L227.10 293.17 L228.27 293.60 L229.43 294.04 L230.59 294.48 L231.75 294.94 L232.90 295.41 L234.04 295.90 L235.18 296.39 L236.31 296.90 L237.44 297.42 L238.56 297.95 L239.67 298.50 L240.78 299.06 L241.88 299.63 L242.97 300.22 L244.05 300.82 L245.11 301.44 L246.17 302.08 L247.21 302.73 L248.24 303.40 L249.26 304.09 L250.26 304.80 L251.24 305.53 L252.20 306.28 L253.14 307.04 L254.07 307.83 L254.97 308.64 L255.85 309.48 L256.71 310.33 L257.54 311.21 L258.35 312.12 L259.13 313.04 L259.88 313.99 L260.61 314.97 L261.32 315.96 L262.01 316.97 L262.67 318.01 L263.31 319.05 L263.94 320.12 L264.54 321.20 L265.13 322.29 L265.69 323.40 L266.25 324.52 L266.78 325.65 L267.30 326.79 L267.81 327.94 L268.30 329.09 L268.78 330.25 L269.25 331.42 L269.71 332.59 L270.16 333.76 L270.60 334.94 L271.03 336.11 L271.45 337.29 L271.86 338.47 L272.26 339.66 L272.65 340.84 L273.04 342.03 L273.41 343.22 L273.78 344.41 L274.14 345.61 L274.49 346.80 L274.83 348.00 L275.17 349.20 L275.50 350.40 L275.82 351.60 L276.13 352.81 L276.44 354.02 L276.74 355.22 L277.03 356.43 L277.32 357.64 L277.60 358.85 L277.88 360.07 L278.15 361.28 L278.41 362.49 L278.67 363.71 L278.92 364.93 L279.17 366.14 L279.41 367.36 L279.64 368.58 L279.88 369.80 L280.10 371.02 L280.33 372.25 L280.55 373.47 L280.76 374.69 L280.97 375.91 L281.18 377.14 L281.38 378.36 L281.58 379.59 L281.78 380.81 L281.97 382.04 L282.16 383.26 L282.34 384.49 L282.53 385.71 L282.71 386.94 L282.88 388.17 L283.05 389.39 L283.22 390.62 L283.39 391.85 L283.55 393.08 L283.71 394.31 L283.86 395.54 L284.01 396.76 L284.16 397.99 L284.31 399.22 L284.45 400.45 L284.59 401.68 L284.73 402.92 L284.86 404.15 L284.99 405.38 L285.12 406.61 L285.24 407.84 L285.36 409.07 L285.48 410.31 L285.60 411.54 L285.71 412.77 L285.82 414.01 L285.93 415.24 L286.04 416.47 L286.14 417.71 L286.24 418.94 L286.34 420.18 L286.43 421.41 L286.53 422.65 L286.62 423.88 L286.70 425.12 L286.79 426.36 L286.87 427.59 L286.95 428.83 L287.03 430.07 L287.11 431.30 L287.18 432.54 L287.25 433.78 L287.32 435.01 L287.39 436.25 L287.46 437.49 L287.52 438.73 L287.58 439.97 L287.64 441.21 L287.70 442.44 L287.75 443.68 L287.81 444.92 L287.86 446.16 L287.91 447.40 L287.95 448.64 L288.00 449.88 L288.04 451.12 L288.09 452.36 L288.13 453.60 L288.17 454.84 L288.20 456.08 L288.24 457.33 L288.28 458.57 L288.31 459.81 L288.34 461.05 L288.37 462.29 L288.40 463.53 L288.43 464.77 L288.45 466.02 L288.48 467.26 L288.50 468.50" stroke="#f0f" stroke-width="1.8" stroke-dasharray="8.2 2.6 2 2.6"/>
</g>
<g fill="none">
<path d="M95.4 381.75H118.2" stroke="#000" stroke-width="1.9"/>
<path d="M95.9 396.00H118.2" stroke="#f00" stroke-width="1.8" stroke-dasharray="6.7 5.5"/>
<path d="M95.9 413.00H119.7" stroke="#00f" stroke-width="2.1" stroke-dasharray="2.1 5.25"/>
<path d="M95.9 430.50H118.7" stroke="#f0f" stroke-width="1.8" stroke-dasharray="7.5 3 2 2.9"/>
</g>
<text class="lg" x="121.60" y="385.35">eB=0</text>
<text class="lg" x="121.60" y="399.55">eB=10m<tspan class="sm" dx="0.6" dy="-5">2</tspan><tspan class="pi" dx="-3.8" dy="9.3">π</tspan></text>
<text class="lg" x="121.60" y="416.55">eB=20m<tspan class="sm" dx="0.6" dy="-5">2</tspan><tspan class="pi" dx="-3.8" dy="9.3">π</tspan></text>
<text class="lg" x="121.60" y="434.05">eB=30m<tspan class="sm" dx="0.6" dy="-5">2</tspan><tspan class="pi" dx="-3.8" dy="9.3">π</tspan></text>
<text class="ax" transform="translate(11.6 412.8) rotate(-90)"><tspan class="ser" font-size="16">Γ</tspan><tspan class="sub" dx="-0.6" dy="5">σ</tspan><tspan dy="-5"> (MeV)</tspan></text>
</svg></body></html>
